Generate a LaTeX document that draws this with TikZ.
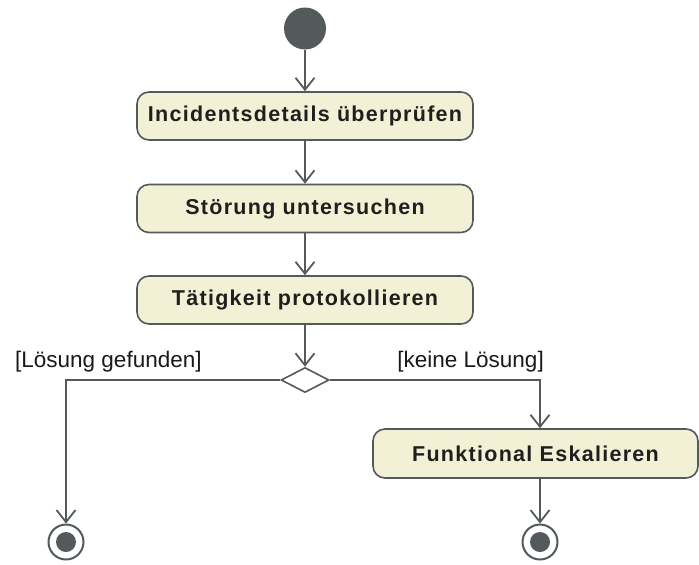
\documentclass[tikz,border=0pt]{standalone}
\usepackage{fontspec}
\setmainfont{Liberation Sans}
\newfontfamily\actfam[LetterSpace=6]{Liberation Sans}
\usetikzlibrary{arrows.meta,shapes.geometric,positioning}
\tikzset{
  act/.style={draw=edge,fill=actfill,line width=1.6pt,rounded corners=12pt,
    minimum width=336pt,minimum height=48pt,inner sep=0pt,text=black!88,
    font=\actfam\bfseries\fontsize{21.5pt}{25pt}\selectfont},
  flow/.style={draw=edge,line width=1.8pt,-{Straight Barb[length=12pt,width=19pt]}},
  startstate/.style={circle,fill=edge,minimum size=42pt,inner sep=0pt},
  endstate/.style={circle,draw=edge,line width=2pt,fill=white,minimum size=35pt,inner sep=0pt,
    path picture={\fill[edge] (path picture bounding box.center) circle (10pt);}},
  decision/.style={diamond,draw=edge,fill=white,line width=1.6pt,minimum width=48pt,
    minimum height=25pt,inner sep=0pt},
  guard/.style={inner sep=0pt,text=black!90,font=\fontsize{22.5pt}{26pt}\selectfont}
}

\begin{document}
\begin{tikzpicture}[x=1pt,y=-1pt]
    \definecolor{edge}{RGB}{84,90,92}
    \definecolor{actfill}{RGB}{243,241,213}
    \useasboundingbox (0,0) rectangle (699,565);

    \node [startstate] (start) at (305,28.5) {};
    \node [act] (check) at (305,116) {Incidentsdetails überprüfen};
    \node [act] (inspect) at (305,208.5) {Störung untersuchen};
    \node [act] (log) at (305,300) {Tätigkeit protokollieren};
    \node [decision] (dec) at (305,380) {};
    \node [act,minimum width=325pt,minimum height=49pt] (escal) at (535.5,453.5) {Funktional Eskalieren};
    \node [endstate] (endleft) at (66,542) {};
    \node [endstate] (endright) at (540,542) {};

    \node [guard,anchor=base west] (found) at (15,367) {[Lösung gefunden]};
    \node [guard,anchor=base east] (nofound) at (544,367) {[keine Lösung]};

    \draw [flow] (start) -- (check);
    \draw [flow] (check) -- (inspect);
    \draw [flow] (inspect) -- (log);
    \draw [flow] (log) -- (dec);
    \draw [flow] (dec.west) -| (endleft);
    \draw [flow] (dec.east) -| ([xshift=4.5pt]escal.north);
    \draw [flow] ([xshift=4.5pt]escal.south) -- (endright);
\end{tikzpicture}
\end{document}
